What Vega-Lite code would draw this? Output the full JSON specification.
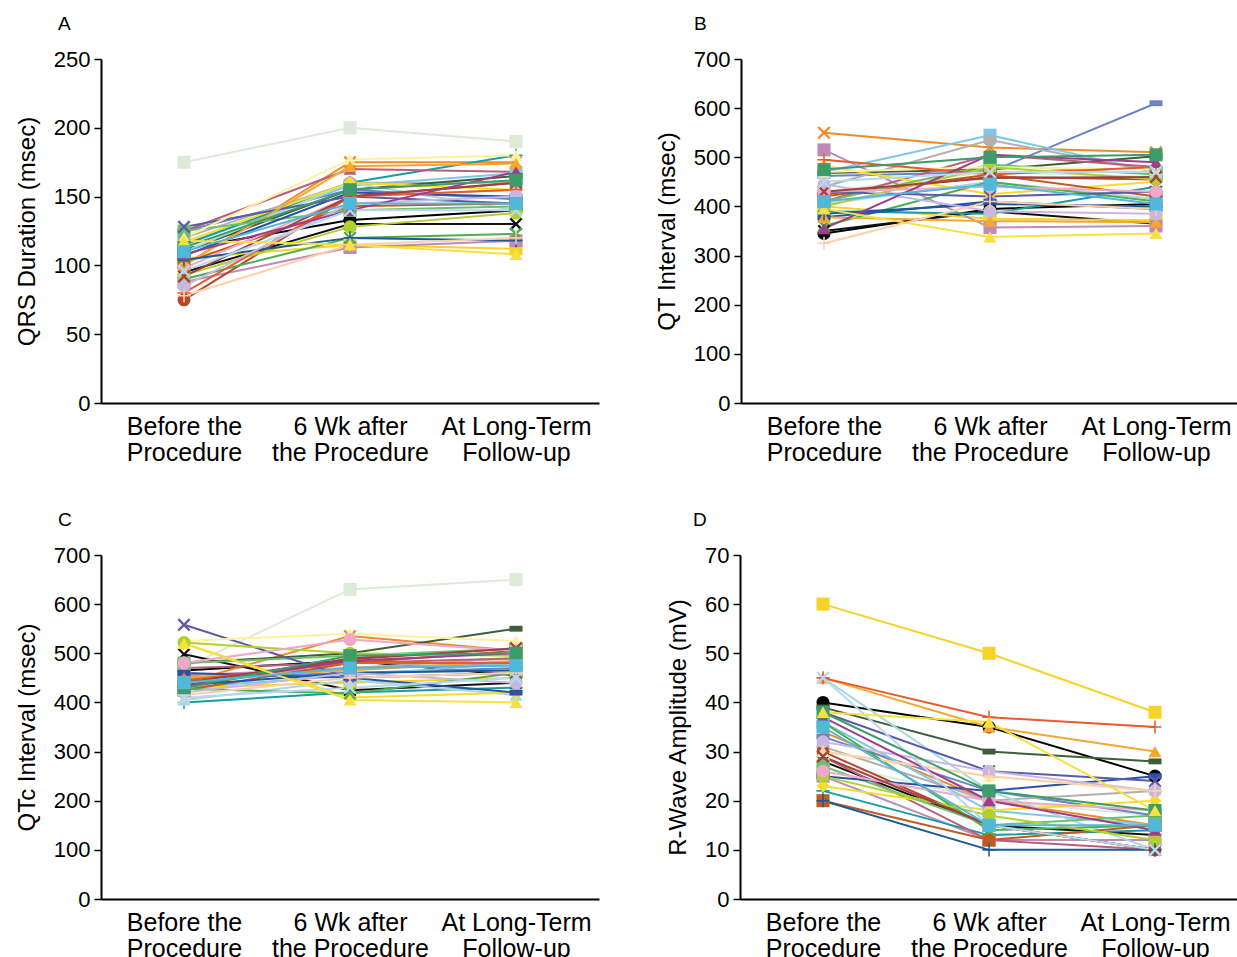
{
"$schema": "https://vega.github.io/schema/vega-lite/v6.json",
"padding": {"top": 15, "left": 15, "right": 0, "bottom": 0},
"datasets": {"d": [
{"g":"A","p":"p01","t":0,"v":175},{"g":"A","p":"p01","t":1,"v":200},{"g":"A","p":"p01","t":2,"v":190},
{"g":"A","p":"p02","t":0,"v":112},{"g":"A","p":"p02","t":1,"v":133},{"g":"A","p":"p02","t":2,"v":140},
{"g":"A","p":"p03","t":0,"v":95},{"g":"A","p":"p03","t":1,"v":130},{"g":"A","p":"p03","t":2,"v":130},
{"g":"A","p":"p04","t":0,"v":105},{"g":"A","p":"p04","t":1,"v":115},{"g":"A","p":"p04","t":2,"v":112},
{"g":"A","p":"p05","t":0,"v":100},{"g":"A","p":"p05","t":1,"v":175},{"g":"A","p":"p05","t":2,"v":175},
{"g":"A","p":"p06","t":0,"v":88},{"g":"A","p":"p06","t":1,"v":113},{"g":"A","p":"p06","t":2,"v":118},
{"g":"A","p":"p07","t":0,"v":125},{"g":"A","p":"p07","t":1,"v":155},{"g":"A","p":"p07","t":2,"v":148},
{"g":"A","p":"p08","t":0,"v":115},{"g":"A","p":"p08","t":1,"v":158},{"g":"A","p":"p08","t":2,"v":167},
{"g":"A","p":"p09","t":0,"v":120},{"g":"A","p":"p09","t":1,"v":160},{"g":"A","p":"p09","t":2,"v":160},
{"g":"A","p":"p10","t":0,"v":110},{"g":"A","p":"p10","t":1,"v":155},{"g":"A","p":"p10","t":2,"v":165},
{"g":"A","p":"p11","t":0,"v":115},{"g":"A","p":"p11","t":1,"v":160},{"g":"A","p":"p11","t":2,"v":180},
{"g":"A","p":"p12","t":0,"v":125},{"g":"A","p":"p12","t":1,"v":170},{"g":"A","p":"p12","t":2,"v":168},
{"g":"A","p":"p13","t":0,"v":110},{"g":"A","p":"p13","t":1,"v":160},{"g":"A","p":"p13","t":2,"v":140},
{"g":"A","p":"p14","t":0,"v":117},{"g":"A","p":"p14","t":1,"v":160},{"g":"A","p":"p14","t":2,"v":155},
{"g":"A","p":"p15","t":0,"v":75},{"g":"A","p":"p15","t":1,"v":150},{"g":"A","p":"p15","t":2,"v":160},
{"g":"A","p":"p16","t":0,"v":102},{"g":"A","p":"p16","t":1,"v":143},{"g":"A","p":"p16","t":2,"v":145},
{"g":"A","p":"p17","t":0,"v":90},{"g":"A","p":"p17","t":1,"v":120},{"g":"A","p":"p17","t":2,"v":123},
{"g":"A","p":"p18","t":0,"v":125},{"g":"A","p":"p18","t":1,"v":140},{"g":"A","p":"p18","t":2,"v":143},
{"g":"A","p":"p19","t":0,"v":107},{"g":"A","p":"p19","t":1,"v":153},{"g":"A","p":"p19","t":2,"v":150},
{"g":"A","p":"p20","t":0,"v":128},{"g":"A","p":"p20","t":1,"v":150},{"g":"A","p":"p20","t":2,"v":145},
{"g":"A","p":"p21","t":0,"v":120},{"g":"A","p":"p21","t":1,"v":177},{"g":"A","p":"p21","t":2,"v":180},
{"g":"A","p":"p22","t":0,"v":93},{"g":"A","p":"p22","t":1,"v":128},{"g":"A","p":"p22","t":2,"v":138},
{"g":"A","p":"p23","t":0,"v":98},{"g":"A","p":"p23","t":1,"v":150},{"g":"A","p":"p23","t":2,"v":155},
{"g":"A","p":"p24","t":0,"v":100},{"g":"A","p":"p24","t":1,"v":172},{"g":"A","p":"p24","t":2,"v":174},
{"g":"A","p":"p25","t":0,"v":80},{"g":"A","p":"p25","t":1,"v":150},{"g":"A","p":"p25","t":2,"v":155},
{"g":"A","p":"p26","t":0,"v":104},{"g":"A","p":"p26","t":1,"v":120},{"g":"A","p":"p26","t":2,"v":118},
{"g":"A","p":"p27","t":0,"v":85},{"g":"A","p":"p27","t":1,"v":145},{"g":"A","p":"p27","t":2,"v":150},
{"g":"A","p":"p28","t":0,"v":78},{"g":"A","p":"p28","t":1,"v":115},{"g":"A","p":"p28","t":2,"v":120},
{"g":"A","p":"p29","t":0,"v":92},{"g":"A","p":"p29","t":1,"v":150},{"g":"A","p":"p29","t":2,"v":160},
{"g":"A","p":"p30","t":0,"v":108},{"g":"A","p":"p30","t":1,"v":140},{"g":"A","p":"p30","t":2,"v":168},
{"g":"A","p":"p31","t":0,"v":96},{"g":"A","p":"p31","t":1,"v":140},{"g":"A","p":"p31","t":2,"v":140},
{"g":"A","p":"p32","t":0,"v":113},{"g":"A","p":"p32","t":1,"v":155},{"g":"A","p":"p32","t":2,"v":162},
{"g":"A","p":"p33","t":0,"v":118},{"g":"A","p":"p33","t":1,"v":115},{"g":"A","p":"p33","t":2,"v":108},
{"g":"A","p":"p34","t":0,"v":110},{"g":"A","p":"p34","t":1,"v":145},{"g":"A","p":"p34","t":2,"v":145},
{"g":"B","p":"p01","t":0,"v":430},{"g":"B","p":"p01","t":1,"v":470},{"g":"B","p":"p01","t":2,"v":460},
{"g":"B","p":"p02","t":0,"v":345},{"g":"B","p":"p02","t":1,"v":395},{"g":"B","p":"p02","t":2,"v":405},
{"g":"B","p":"p03","t":0,"v":350},{"g":"B","p":"p03","t":1,"v":390},{"g":"B","p":"p03","t":2,"v":365},
{"g":"B","p":"p04","t":0,"v":400},{"g":"B","p":"p04","t":1,"v":375},{"g":"B","p":"p04","t":2,"v":372},
{"g":"B","p":"p05","t":0,"v":550},{"g":"B","p":"p05","t":1,"v":520},{"g":"B","p":"p05","t":2,"v":510},
{"g":"B","p":"p06","t":0,"v":515},{"g":"B","p":"p06","t":1,"v":357},{"g":"B","p":"p06","t":2,"v":360},
{"g":"B","p":"p07","t":0,"v":462},{"g":"B","p":"p07","t":1,"v":470},{"g":"B","p":"p07","t":2,"v":610},
{"g":"B","p":"p08","t":0,"v":470},{"g":"B","p":"p08","t":1,"v":545},{"g":"B","p":"p08","t":2,"v":470},
{"g":"B","p":"p09","t":0,"v":440},{"g":"B","p":"p09","t":1,"v":535},{"g":"B","p":"p09","t":2,"v":470},
{"g":"B","p":"p10","t":0,"v":468},{"g":"B","p":"p10","t":1,"v":475},{"g":"B","p":"p10","t":2,"v":502},
{"g":"B","p":"p11","t":0,"v":390},{"g":"B","p":"p11","t":1,"v":385},{"g":"B","p":"p11","t":2,"v":440},
{"g":"B","p":"p12","t":0,"v":410},{"g":"B","p":"p12","t":1,"v":505},{"g":"B","p":"p12","t":2,"v":480},
{"g":"B","p":"p13","t":0,"v":405},{"g":"B","p":"p13","t":1,"v":450},{"g":"B","p":"p13","t":2,"v":415},
{"g":"B","p":"p14","t":0,"v":483},{"g":"B","p":"p14","t":1,"v":425},{"g":"B","p":"p14","t":2,"v":450},
{"g":"B","p":"p15","t":0,"v":425},{"g":"B","p":"p15","t":1,"v":460},{"g":"B","p":"p15","t":2,"v":455},
{"g":"B","p":"p16","t":0,"v":420},{"g":"B","p":"p16","t":1,"v":465},{"g":"B","p":"p16","t":2,"v":420},
{"g":"B","p":"p17","t":0,"v":360},{"g":"B","p":"p17","t":1,"v":450},{"g":"B","p":"p17","t":2,"v":410},
{"g":"B","p":"p18","t":0,"v":410},{"g":"B","p":"p18","t":1,"v":485},{"g":"B","p":"p18","t":2,"v":465},
{"g":"B","p":"p19","t":0,"v":378},{"g":"B","p":"p19","t":1,"v":410},{"g":"B","p":"p19","t":2,"v":395},
{"g":"B","p":"p20","t":0,"v":430},{"g":"B","p":"p20","t":1,"v":420},{"g":"B","p":"p20","t":2,"v":430},
{"g":"B","p":"p21","t":0,"v":470},{"g":"B","p":"p21","t":1,"v":480},{"g":"B","p":"p21","t":2,"v":475},
{"g":"B","p":"p22","t":0,"v":400},{"g":"B","p":"p22","t":1,"v":480},{"g":"B","p":"p22","t":2,"v":455},
{"g":"B","p":"p23","t":0,"v":430},{"g":"B","p":"p23","t":1,"v":440},{"g":"B","p":"p23","t":2,"v":430},
{"g":"B","p":"p24","t":0,"v":378},{"g":"B","p":"p24","t":1,"v":370},{"g":"B","p":"p24","t":2,"v":368},
{"g":"B","p":"p25","t":0,"v":495},{"g":"B","p":"p25","t":1,"v":465},{"g":"B","p":"p25","t":2,"v":480},
{"g":"B","p":"p26","t":0,"v":385},{"g":"B","p":"p26","t":1,"v":405},{"g":"B","p":"p26","t":2,"v":400},
{"g":"B","p":"p27","t":0,"v":445},{"g":"B","p":"p27","t":1,"v":390},{"g":"B","p":"p27","t":2,"v":385},
{"g":"B","p":"p28","t":0,"v":325},{"g":"B","p":"p28","t":1,"v":410},{"g":"B","p":"p28","t":2,"v":395},
{"g":"B","p":"p29","t":0,"v":430},{"g":"B","p":"p29","t":1,"v":458},{"g":"B","p":"p29","t":2,"v":460},
{"g":"B","p":"p30","t":0,"v":355},{"g":"B","p":"p30","t":1,"v":505},{"g":"B","p":"p30","t":2,"v":490},
{"g":"B","p":"p31","t":0,"v":450},{"g":"B","p":"p31","t":1,"v":470},{"g":"B","p":"p31","t":2,"v":470},
{"g":"B","p":"p32","t":0,"v":475},{"g":"B","p":"p32","t":1,"v":500},{"g":"B","p":"p32","t":2,"v":505},
{"g":"B","p":"p33","t":0,"v":395},{"g":"B","p":"p33","t":1,"v":338},{"g":"B","p":"p33","t":2,"v":345},
{"g":"B","p":"p34","t":0,"v":410},{"g":"B","p":"p34","t":1,"v":445},{"g":"B","p":"p34","t":2,"v":405},
{"g":"C","p":"p01","t":0,"v":470},{"g":"C","p":"p01","t":1,"v":630},{"g":"C","p":"p01","t":2,"v":650},
{"g":"C","p":"p02","t":0,"v":465},{"g":"C","p":"p02","t":1,"v":485},{"g":"C","p":"p02","t":2,"v":455},
{"g":"C","p":"p03","t":0,"v":498},{"g":"C","p":"p03","t":1,"v":425},{"g":"C","p":"p03","t":2,"v":440},
{"g":"C","p":"p04","t":0,"v":430},{"g":"C","p":"p04","t":1,"v":440},{"g":"C","p":"p04","t":2,"v":450},
{"g":"C","p":"p05","t":0,"v":440},{"g":"C","p":"p05","t":1,"v":535},{"g":"C","p":"p05","t":2,"v":505},
{"g":"C","p":"p06","t":0,"v":455},{"g":"C","p":"p06","t":1,"v":470},{"g":"C","p":"p06","t":2,"v":480},
{"g":"C","p":"p07","t":0,"v":450},{"g":"C","p":"p07","t":1,"v":460},{"g":"C","p":"p07","t":2,"v":470},
{"g":"C","p":"p08","t":0,"v":430},{"g":"C","p":"p08","t":1,"v":455},{"g":"C","p":"p08","t":2,"v":480},
{"g":"C","p":"p09","t":0,"v":450},{"g":"C","p":"p09","t":1,"v":470},{"g":"C","p":"p09","t":2,"v":490},
{"g":"C","p":"p10","t":0,"v":480},{"g":"C","p":"p10","t":1,"v":500},{"g":"C","p":"p10","t":2,"v":550},
{"g":"C","p":"p11","t":0,"v":400},{"g":"C","p":"p11","t":1,"v":420},{"g":"C","p":"p11","t":2,"v":430},
{"g":"C","p":"p12","t":0,"v":470},{"g":"C","p":"p12","t":1,"v":480},{"g":"C","p":"p12","t":2,"v":490},
{"g":"C","p":"p13","t":0,"v":405},{"g":"C","p":"p13","t":1,"v":445},{"g":"C","p":"p13","t":2,"v":415},
{"g":"C","p":"p14","t":0,"v":520},{"g":"C","p":"p14","t":1,"v":410},{"g":"C","p":"p14","t":2,"v":420},
{"g":"C","p":"p15","t":0,"v":430},{"g":"C","p":"p15","t":1,"v":490},{"g":"C","p":"p15","t":2,"v":510},
{"g":"C","p":"p16","t":0,"v":425},{"g":"C","p":"p16","t":1,"v":480},{"g":"C","p":"p16","t":2,"v":505},
{"g":"C","p":"p17","t":0,"v":428},{"g":"C","p":"p17","t":1,"v":418},{"g":"C","p":"p17","t":2,"v":460},
{"g":"C","p":"p18","t":0,"v":480},{"g":"C","p":"p18","t":1,"v":495},{"g":"C","p":"p18","t":2,"v":510},
{"g":"C","p":"p19","t":0,"v":460},{"g":"C","p":"p19","t":1,"v":450},{"g":"C","p":"p19","t":2,"v":420},
{"g":"C","p":"p20","t":0,"v":558},{"g":"C","p":"p20","t":1,"v":450},{"g":"C","p":"p20","t":2,"v":460},
{"g":"C","p":"p21","t":0,"v":525},{"g":"C","p":"p21","t":1,"v":540},{"g":"C","p":"p21","t":2,"v":525},
{"g":"C","p":"p22","t":0,"v":522},{"g":"C","p":"p22","t":1,"v":500},{"g":"C","p":"p22","t":2,"v":495},
{"g":"C","p":"p23","t":0,"v":480},{"g":"C","p":"p23","t":1,"v":528},{"g":"C","p":"p23","t":2,"v":505},
{"g":"C","p":"p24","t":0,"v":450},{"g":"C","p":"p24","t":1,"v":465},{"g":"C","p":"p24","t":2,"v":485},
{"g":"C","p":"p25","t":0,"v":445},{"g":"C","p":"p25","t":1,"v":480},{"g":"C","p":"p25","t":2,"v":480},
{"g":"C","p":"p26","t":0,"v":435},{"g":"C","p":"p26","t":1,"v":460},{"g":"C","p":"p26","t":2,"v":465},
{"g":"C","p":"p27","t":0,"v":420},{"g":"C","p":"p27","t":1,"v":460},{"g":"C","p":"p27","t":2,"v":440},
{"g":"C","p":"p28","t":0,"v":415},{"g":"C","p":"p28","t":1,"v":450},{"g":"C","p":"p28","t":2,"v":460},
{"g":"C","p":"p29","t":0,"v":440},{"g":"C","p":"p29","t":1,"v":488},{"g":"C","p":"p29","t":2,"v":510},
{"g":"C","p":"p30","t":0,"v":435},{"g":"C","p":"p30","t":1,"v":485},{"g":"C","p":"p30","t":2,"v":500},
{"g":"C","p":"p31","t":0,"v":410},{"g":"C","p":"p31","t":1,"v":430},{"g":"C","p":"p31","t":2,"v":450},
{"g":"C","p":"p32","t":0,"v":430},{"g":"C","p":"p32","t":1,"v":495},{"g":"C","p":"p32","t":2,"v":500},
{"g":"C","p":"p33","t":0,"v":520},{"g":"C","p":"p33","t":1,"v":405},{"g":"C","p":"p33","t":2,"v":400},
{"g":"C","p":"p34","t":0,"v":440},{"g":"C","p":"p34","t":1,"v":470},{"g":"C","p":"p34","t":2,"v":475},
{"g":"D","p":"p01","t":0,"v":28},{"g":"D","p":"p01","t":1,"v":20},{"g":"D","p":"p01","t":2,"v":17},
{"g":"D","p":"p02","t":0,"v":40},{"g":"D","p":"p02","t":1,"v":35},{"g":"D","p":"p02","t":2,"v":25},
{"g":"D","p":"p03","t":0,"v":28},{"g":"D","p":"p03","t":1,"v":15},{"g":"D","p":"p03","t":2,"v":13},
{"g":"D","p":"p04","t":0,"v":60},{"g":"D","p":"p04","t":1,"v":50},{"g":"D","p":"p04","t":2,"v":38},
{"g":"D","p":"p05","t":0,"v":34},{"g":"D","p":"p05","t":1,"v":20},{"g":"D","p":"p05","t":2,"v":15},
{"g":"D","p":"p06","t":0,"v":25},{"g":"D","p":"p06","t":1,"v":12},{"g":"D","p":"p06","t":2,"v":12},
{"g":"D","p":"p07","t":0,"v":33},{"g":"D","p":"p07","t":1,"v":22},{"g":"D","p":"p07","t":2,"v":17},
{"g":"D","p":"p08","t":0,"v":36},{"g":"D","p":"p08","t":1,"v":18},{"g":"D","p":"p08","t":2,"v":15},
{"g":"D","p":"p09","t":0,"v":31},{"g":"D","p":"p09","t":1,"v":20},{"g":"D","p":"p09","t":2,"v":22},
{"g":"D","p":"p10","t":0,"v":39},{"g":"D","p":"p10","t":1,"v":30},{"g":"D","p":"p10","t":2,"v":28},
{"g":"D","p":"p11","t":0,"v":22},{"g":"D","p":"p11","t":1,"v":13},{"g":"D","p":"p11","t":2,"v":14},
{"g":"D","p":"p12","t":0,"v":29},{"g":"D","p":"p12","t":1,"v":12},{"g":"D","p":"p12","t":2,"v":10},
{"g":"D","p":"p13","t":0,"v":45},{"g":"D","p":"p13","t":1,"v":22},{"g":"D","p":"p13","t":2,"v":10},
{"g":"D","p":"p14","t":0,"v":23},{"g":"D","p":"p14","t":1,"v":18},{"g":"D","p":"p14","t":2,"v":20},
{"g":"D","p":"p15","t":0,"v":30},{"g":"D","p":"p15","t":1,"v":15},{"g":"D","p":"p15","t":2,"v":10},
{"g":"D","p":"p16","t":0,"v":20},{"g":"D","p":"p16","t":1,"v":12},{"g":"D","p":"p16","t":2,"v":15},
{"g":"D","p":"p17","t":0,"v":36},{"g":"D","p":"p17","t":1,"v":14},{"g":"D","p":"p17","t":2,"v":15},
{"g":"D","p":"p18","t":0,"v":27},{"g":"D","p":"p18","t":1,"v":15},{"g":"D","p":"p18","t":2,"v":17},
{"g":"D","p":"p19","t":0,"v":25},{"g":"D","p":"p19","t":1,"v":22},{"g":"D","p":"p19","t":2,"v":25},
{"g":"D","p":"p20","t":0,"v":38},{"g":"D","p":"p20","t":1,"v":26},{"g":"D","p":"p20","t":2,"v":24},
{"g":"D","p":"p21","t":0,"v":30},{"g":"D","p":"p21","t":1,"v":25},{"g":"D","p":"p21","t":2,"v":22},
{"g":"D","p":"p22","t":0,"v":25},{"g":"D","p":"p22","t":1,"v":17},{"g":"D","p":"p22","t":2,"v":12},
{"g":"D","p":"p23","t":0,"v":26},{"g":"D","p":"p23","t":1,"v":20},{"g":"D","p":"p23","t":2,"v":18},
{"g":"D","p":"p24","t":0,"v":45},{"g":"D","p":"p24","t":1,"v":35},{"g":"D","p":"p24","t":2,"v":30},
{"g":"D","p":"p25","t":0,"v":45},{"g":"D","p":"p25","t":1,"v":37},{"g":"D","p":"p25","t":2,"v":35},
{"g":"D","p":"p26","t":0,"v":20},{"g":"D","p":"p26","t":1,"v":10},{"g":"D","p":"p26","t":2,"v":10},
{"g":"D","p":"p27","t":0,"v":32},{"g":"D","p":"p27","t":1,"v":26},{"g":"D","p":"p27","t":2,"v":22},
{"g":"D","p":"p28","t":0,"v":30},{"g":"D","p":"p28","t":1,"v":25},{"g":"D","p":"p28","t":2,"v":22},
{"g":"D","p":"p29","t":0,"v":29},{"g":"D","p":"p29","t":1,"v":15},{"g":"D","p":"p29","t":2,"v":10},
{"g":"D","p":"p30","t":0,"v":37},{"g":"D","p":"p30","t":1,"v":20},{"g":"D","p":"p30","t":2,"v":14},
{"g":"D","p":"p31","t":0,"v":45},{"g":"D","p":"p31","t":1,"v":15},{"g":"D","p":"p31","t":2,"v":10},
{"g":"D","p":"p32","t":0,"v":38},{"g":"D","p":"p32","t":1,"v":22},{"g":"D","p":"p32","t":2,"v":18},
{"g":"D","p":"p33","t":0,"v":38},{"g":"D","p":"p33","t":1,"v":36},{"g":"D","p":"p33","t":2,"v":18},
{"g":"D","p":"p34","t":0,"v":35},{"g":"D","p":"p34","t":1,"v":15},{"g":"D","p":"p34","t":2,"v":15}
]},
"vconcat": [
{"spacing": 56, "hconcat": [
{"title": "A", "width": 498, "height": 344, "data": {"name": "d"}, "transform": [{"filter": "datum.g == 'A'"}],
 "encoding": {
  "x": {"field": "t", "type": "ordinal", "scale": {"type": "point", "padding": 0.5}, "axis": {"labelExpr": "datum.value == 0 ? ['Before the', 'Procedure'] : datum.value == 1 ? ['6 Wk after', 'the Procedure'] : ['At Long-Term', 'Follow-up']"}},
  "y": {"field": "v", "type": "quantitative", "scale": {"domain": [0, 250]}, "axis": {"values": [0, 50, 100, 150, 200, 250], "title": "QRS Duration (msec)"}},
  "color": {"field": "p", "type": "nominal", "legend": null}},
 "layer": [
  {"mark": {"type": "line", "strokeWidth": 2}, "encoding": {}},
  {"mark": {"type": "point", "filled": true, "size": 170, "opacity": 1}, "encoding": {"shape": {"field": "p", "type": "nominal", "legend": null, "scale": {"range": ["square","circle","M-1,-0.75L-0.75,-1L0,-0.25L0.75,-1L1,-0.75L0.25,0L1,0.75L0.75,1L0,0.25L-0.75,1L-1,0.75L-0.25,0Z","square","M-1,-0.75L-0.75,-1L0,-0.25L0.75,-1L1,-0.75L0.25,0L1,0.75L0.75,1L0,0.25L-0.75,1L-1,0.75L-0.25,0Z","square","M-1,-0.45H1V0.45H-1Z","square","circle","M-1,-0.45H1V0.45H-1Z","M-1,-0.12H-0.12V-1H0.12V-0.12H1V0.12H0.12V1H-0.12V0.12H-1Z","triangle-up","triangle-up","diamond","circle","square","M-1,-0.75L-0.75,-1L0,-0.25L0.75,-1L1,-0.75L0.25,0L1,0.75L0.75,1L0,0.25L-0.75,1L-1,0.75L-0.25,0Z","square","M-1,-0.45H1V0.45H-1Z","M-1,-0.75L-0.75,-1L0,-0.25L0.75,-1L1,-0.75L0.25,0L1,0.75L0.75,1L0,0.25L-0.75,1L-1,0.75L-0.25,0Z","triangle-up","circle","circle","triangle-up","M-1,-0.12H-0.12V-1H0.12V-0.12H1V0.12H0.12V1H-0.12V0.12H-1Z","M-1,-0.12H-0.12V-1H0.12V-0.12H1V0.12H0.12V1H-0.12V0.12H-1Z","circle","M-1,-0.12H-0.12V-1H0.12V-0.12H1V0.12H0.12V1H-0.12V0.12H-1Z","M-1,-0.75L-0.75,-1L0,-0.25L0.75,-1L1,-0.75L0.25,0L1,0.75L0.75,1L0,0.25L-0.75,1L-1,0.75L-0.25,0Z","triangle-up","M-1,-0.75L-0.75,-1L0,-0.25L0.75,-1L1,-0.75L0.25,0L1,0.75L0.75,1L0,0.25L-0.75,1L-1,0.75L-0.25,0Z","square","triangle-up","square"]}}}}
 ]},
{"title": {"text": "B", "dx": -47}, "width": 498, "height": 344, "data": {"name": "d"}, "transform": [{"filter": "datum.g == 'B'"}],
 "encoding": {
  "x": {"field": "t", "type": "ordinal", "scale": {"type": "point", "padding": 0.5}, "axis": {"labelExpr": "datum.value == 0 ? ['Before the', 'Procedure'] : datum.value == 1 ? ['6 Wk after', 'the Procedure'] : ['At Long-Term', 'Follow-up']"}},
  "y": {"field": "v", "type": "quantitative", "scale": {"domain": [0, 700]}, "axis": {"values": [0, 100, 200, 300, 400, 500, 600, 700], "title": "QT Interval (msec)"}},
  "color": {"field": "p", "type": "nominal", "legend": null}},
 "layer": [
  {"mark": {"type": "line", "strokeWidth": 2}, "encoding": {}},
  {"mark": {"type": "point", "filled": true, "size": 170, "opacity": 1}, "encoding": {"shape": {"field": "p", "type": "nominal", "legend": null}}}
 ]}
]},
{"spacing": 67, "hconcat": [
{"title": "C", "width": 498, "height": 344, "data": {"name": "d"}, "transform": [{"filter": "datum.g == 'C'"}],
 "encoding": {
  "x": {"field": "t", "type": "ordinal", "scale": {"type": "point", "padding": 0.5}, "axis": {"labelExpr": "datum.value == 0 ? ['Before the', 'Procedure'] : datum.value == 1 ? ['6 Wk after', 'the Procedure'] : ['At Long-Term', 'Follow-up']"}},
  "y": {"field": "v", "type": "quantitative", "scale": {"domain": [0, 700]}, "axis": {"values": [0, 100, 200, 300, 400, 500, 600, 700], "title": "QTc Interval (msec)"}},
  "color": {"field": "p", "type": "nominal", "legend": null}},
 "layer": [
  {"mark": {"type": "line", "strokeWidth": 2}, "encoding": {}},
  {"mark": {"type": "point", "filled": true, "size": 170, "opacity": 1}, "encoding": {"shape": {"field": "p", "type": "nominal", "legend": null}}}
 ]},
{"title": {"text": "D", "dx": -47}, "width": 498, "height": 344, "data": {"name": "d"}, "transform": [{"filter": "datum.g == 'D'"}],
 "encoding": {
  "x": {"field": "t", "type": "ordinal", "scale": {"type": "point", "padding": 0.5}, "axis": {"labelExpr": "datum.value == 0 ? ['Before the', 'Procedure'] : datum.value == 1 ? ['6 Wk after', 'the Procedure'] : ['At Long-Term', 'Follow-up']"}},
  "y": {"field": "v", "type": "quantitative", "scale": {"domain": [0, 70]}, "axis": {"values": [0, 10, 20, 30, 40, 50, 60, 70], "title": "R-Wave Amplitude (mV)"}},
  "color": {"field": "p", "type": "nominal", "legend": null}},
 "layer": [
  {"mark": {"type": "line", "strokeWidth": 2}, "encoding": {}},
  {"mark": {"type": "point", "filled": true, "size": 170, "opacity": 1}, "encoding": {"shape": {"field": "p", "type": "nominal", "legend": null}}}
 ]}
]}
],
"spacing": 46,
"resolve": {"scale": {"color": "shared", "shape": "shared"}},
"config": {
  "view": {"stroke": null},
  "font": "Liberation Sans",
  "range": {"category": ["#dcebd8","#000000","#111111","#f5d327","#f08a2a","#c08ab8","#6a84c4","#7cc8e8","#b0b0b0","#3d5e3a","#169e9e","#b5607e","#a8d8e0","#f7dd2b","#b5472a","#c05a1e","#4cae4c","#6ec06e","#2a50a8","#5a5aa8","#fff1a0","#b0d030","#f0a8c8","#f4a830","#e85a2a","#1a5a9a","#c8b8e0","#ffd0a8","#a04040","#a03c8c","#b8d8f0","#3c9c6a","#f8e040","#50b8d8"]},
  "axis": {"domainColor": "#000000", "domainWidth": 2, "tickColor": "#000000", "tickWidth": 1.5, "labelColor": "#000000", "titleColor": "#000000", "grid": false, "labelFontSize": 22, "titleFontSize": 24, "titleFontWeight": "normal", "labelFont": "Liberation Sans", "titleFont": "Liberation Sans"},
  "axisX": {"ticks": false, "labelFontSize": 25, "labelPadding": 11, "labelLineHeight": 26, "title": null, "labelAngle": 0, "labelBaseline": "top"},
  "axisY": {"tickSize": 7, "labelPadding": 4, "titlePadding": 14},
  "title": {"fontSize": 19, "fontWeight": "normal", "anchor": "start", "frame": "group", "dx": -43, "offset": 14, "color": "#000000", "font": "Liberation Sans"}
}
}
